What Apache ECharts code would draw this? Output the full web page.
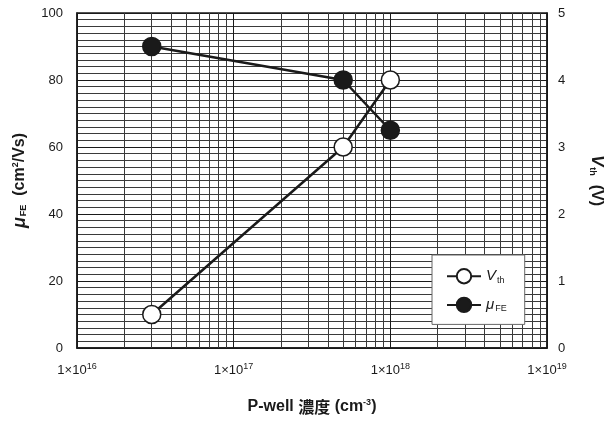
<!DOCTYPE html>
<html>
<head>
<meta charset="utf-8">
<script src="https://cdn.jsdelivr.net/npm/echarts@6/dist/echarts.min.js"></script>
<style>
  html, body { margin: 0; padding: 0; background: #fff; }
  #chart { width: 605px; height: 421px; }
</style>
</head>
<body>
<div id="chart"></div>
<script>
// P-well concentration (cm^-3)
const concentration = [3e16, 5e17, 1e18];
// threshold voltage (V), right axis
const vthValues = [0.5, 3, 4];
// field-effect mobility (cm2/Vs), left axis
const muValues = [90, 80, 65];

const leftTicks = [0, 20, 40, 60, 80, 100];
const rightTicks = [0, 1, 2, 3, 4, 5];
const decades = [16, 17, 18, 19];

// 2x..9x lines inside each decade
const minorX = [];
decades.slice(0, -1).forEach(function (d) {
  for (let m = 2; m <= 9; m++) minorX.push(m * Math.pow(10, d));
});

const font = '"Liberation Sans", Arial, sans-serif';
const ink = '#1a1a1a';
const gridInk = '#3a3a3a';

const chart = echarts.init(document.getElementById('chart'));

const option = {
  animation: false,
  grid: {
    left: 77, right: 58, top: 13, bottom: 73,
    outerBoundsMode: 'none',
    containLabel: false,
    show: true, borderColor: ink, borderWidth: 1.5
  },
  legend: {
    data: ['Vth', 'muFE'],
    orient: 'vertical',
    left: 432, top: 255,
    z: 20,
    padding: [13, 18, 11, 14],
    backgroundColor: '#fff',
    borderColor: '#666',
    borderWidth: 1,
    itemWidth: 34,
    itemHeight: 18,
    itemGap: 12,
    formatter: function (name) {
      return name === 'Vth' ? '{it|V}{sub|th}' : '{it|\u03bc}{sub|FE}';
    },
    textStyle: {
      rich: {
        it: { fontFamily: font, fontStyle: 'italic', fontSize: 15, color: ink },
        sub: { fontFamily: font, fontSize: 9, color: ink, padding: [8, 0, 0, 1] }
      }
    }
  },
  xAxis: {
    type: 'log',
    logBase: 10,
    min: 1e16,
    max: 1e19,
    name: '{b|P-well }{cjk|濃度}{b| (cm}{sup|-3}{b|)}',
    nameLocation: 'middle',
    nameGap: 50,
    nameTextStyle: {
      rich: {
        b: { fontFamily: font, fontWeight: 'bold', fontSize: 16, color: ink },
        cjk: { fontFamily: '"Noto Sans CJK JP", sans-serif', fontWeight: 'bold', fontSize: 16, color: ink },
        sup: { fontFamily: font, fontWeight: 'bold', fontSize: 9, color: ink, padding: [0, 0, 9, 0] }
      }
    },
    axisLine: { show: true, lineStyle: { color: ink, width: 1.5 } },
    axisTick: { show: false },
    splitLine: { show: true, lineStyle: { color: ink, width: 1 } },
    axisLabel: {
      margin: 14,
      formatter: function (v) {
        return '{n|1×10}{sup|' + Math.round(Math.log10(v)) + '}';
      },
      rich: {
        n: { fontFamily: font, fontSize: 13, color: ink },
        sup: { fontFamily: font, fontSize: 9, color: ink, padding: [0, 0, 8, 0] }
      }
    }
  },
  yAxis: [
    {
      type: 'value',
      min: leftTicks[0],
      max: leftTicks[leftTicks.length - 1],
      interval: 20,
      name: '{mu|\u03bc}{sub|FE}{b|  (cm}{sup|2}{b|/Vs)}',
      nameLocation: 'middle',
      nameRotate: 90,
      nameGap: 48,
      nameTextStyle: {
        rich: {
          mu: { fontFamily: font, fontWeight: 'bold', fontStyle: 'italic', fontSize: 18, color: ink },
          sub: { fontFamily: font, fontWeight: 'bold', fontSize: 9, color: ink, padding: [8, 0, 0, 1] },
          b: { fontFamily: font, fontWeight: 'bold', fontSize: 16, color: ink },
          sup: { fontFamily: font, fontWeight: 'bold', fontSize: 9, color: ink, padding: [0, 0, 9, 0] }
        }
      },
      axisLine: { show: true, lineStyle: { color: ink, width: 1.5 } },
      axisTick: { show: false },
      axisLabel: { margin: 14, fontFamily: font, fontSize: 13, color: ink },
      splitLine: { show: true, lineStyle: { color: ink, width: 1 } },
      minorTick: { show: false, splitNumber: 10 },
      minorSplitLine: { show: true, lineStyle: { color: gridInk, width: 1 } }
    },
    {
      type: 'value',
      min: rightTicks[0],
      max: rightTicks[rightTicks.length - 1],
      interval: 1,
      position: 'right',
      name: '{v|V}{sub|th}{b|  (V)}',
      nameLocation: 'middle',
      nameRotate: -90,
      nameGap: 41,
      nameTextStyle: {
        rich: {
          v: { fontFamily: font, fontWeight: 'bold', fontStyle: 'italic', fontSize: 17, color: ink },
          sub: { fontFamily: font, fontWeight: 'bold', fontSize: 9, color: ink, padding: [8, 0, 0, 1] },
          b: { fontFamily: font, fontWeight: 'bold', fontSize: 16, color: ink }
        }
      },
      axisLine: { show: true, lineStyle: { color: ink, width: 1.5 } },
      axisTick: { show: false },
      axisLabel: { margin: 11, fontFamily: font, fontSize: 13, color: ink },
      splitLine: { show: false }
    }
  ],
  series: [
    {
      name: 'grid',
      type: 'line',
      data: [],
      z: 1,
      silent: true,
      markLine: {
        silent: true,
        z: 1,
        symbol: 'none',
        label: { show: false },
        lineStyle: { color: gridInk, width: 1, type: 'solid' },
        data: minorX.map(function (x) { return { xAxis: x }; })
      }
    },
    {
      name: 'Vth',
      type: 'line',
      yAxisIndex: 1,
      z: 3,
      data: concentration.map(function (x, i) { return [x, vthValues[i]]; }),
      symbol: 'circle',
      symbolSize: 18,
      lineStyle: { color: ink, width: 2.5 },
      itemStyle: { color: '#fff', borderColor: ink, borderWidth: 1.5 }
    },
    {
      name: 'muFE',
      type: 'line',
      yAxisIndex: 0,
      z: 4,
      data: concentration.map(function (x, i) { return [x, muValues[i]]; }),
      symbol: 'circle',
      symbolSize: 18,
      lineStyle: { color: ink, width: 2.5 },
      itemStyle: { color: ink, borderColor: ink, borderWidth: 1.5 }
    }
  ]
};

chart.setOption(option);
</script>
</body>
</html>
